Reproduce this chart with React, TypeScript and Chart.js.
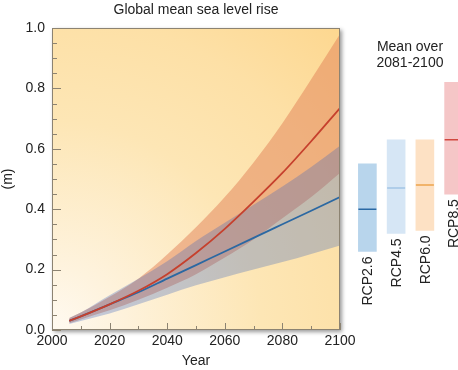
import React, { useEffect, useRef } from "react";
import { Chart, registerables } from "chart.js";

Chart.register(...registerables);

// ---- Data ----
const years = [2006, 2010, 2020, 2030, 2040, 2050, 2060, 2070, 2080, 2090, 2100];
const rcp85Mid = [0.03, 0.045, 0.085, 0.13, 0.185, 0.255, 0.335, 0.425, 0.52, 0.625, 0.735];
const rcp85High = [0.04, 0.058, 0.11, 0.17, 0.25, 0.34, 0.44, 0.555, 0.685, 0.83, 0.98];
const rcp85Low = [0.022, 0.035, 0.065, 0.1, 0.14, 0.185, 0.24, 0.3, 0.37, 0.44, 0.52];
const rcp26Mid = [0.03, 0.045, 0.085, 0.125, 0.17, 0.215, 0.26, 0.305, 0.35, 0.395, 0.44];
const rcp26High = [0.04, 0.058, 0.115, 0.17, 0.228, 0.295, 0.355, 0.415, 0.475, 0.54, 0.61];
const rcp26Low = [0.02, 0.03, 0.055, 0.085, 0.117, 0.148, 0.175, 0.2, 0.225, 0.252, 0.28];

const scenarios = ["RCP2.6", "RCP4.5", "RCP6.0", "RCP8.5"];
const meanLow = [0.26, 0.32, 0.33, 0.45];
const meanHigh = [0.55, 0.63, 0.63, 0.82];
const meanMid = [0.4, 0.47, 0.48, 0.63];

const title = "Global mean sea level rise";
const xTitle = "Year";
const yTitle = "(m)";
const sideTitle = ["Mean over", "2081-2100"];

// ---- Styles ----
const FONT = "'Liberation Sans', Arial, Helvetica, sans-serif";
const TEXT = "#222";
const FS = 14;
const barColors = ["#b8d5ec", "#d6e6f5", "#fde1c4", "#f5c6c7"];
const meanLineColors = ["#2a69a4", "#a2c5e5", "#eca34c", "#d1473f"];

const frameColor = "#8c8372";

const mainPlugin = {
  id: "mainDecor",
  beforeDraw(chart: any) {
    const { ctx, chartArea: a } = chart;
    const g = ctx.createRadialGradient(a.left, a.bottom, 0, a.left, a.bottom, 420);
    g.addColorStop(0, "#fffaf1");
    g.addColorStop(0.15, "#fef3de");
    g.addColorStop(0.5, "#fde6b5");
    g.addColorStop(0.75, "#fde0a6");
    g.addColorStop(1, "#fdd78f");
    ctx.save();
    ctx.shadowColor = "rgba(0,0,0,0.4)";
    ctx.shadowBlur = 4;
    ctx.shadowOffsetX = 2;
    ctx.shadowOffsetY = 2;
    ctx.fillStyle = g;
    ctx.fillRect(a.left, a.top, a.right - a.left, a.bottom - a.top);
    ctx.restore();
  },
  afterDatasetsDraw(chart: any) {
    const { ctx, chartArea: a } = chart;
    const xs = chart.scales.x;
    const ys = chart.scales.y;
    ctx.save();
    ctx.strokeStyle = frameColor;
    ctx.lineWidth = 1;
    ctx.beginPath();
    ys.ticks.forEach((t: any) => {
      const v = Math.round(t.value * 100);
      const p = Math.round(ys.getPixelForValue(t.value)) + 0.5;
      const len = v % 20 === 0 ? 9 : 5;
      ctx.moveTo(a.left, p);
      ctx.lineTo(a.left + len, p);
    });
    xs.ticks.forEach((t: any) => {
      const v = Math.round(t.value);
      const p = Math.round(xs.getPixelForValue(t.value)) + 0.5;
      const len = v % 20 === 0 ? 7 : 4;
      ctx.moveTo(p, a.bottom);
      ctx.lineTo(p, a.bottom - len);
    });
    ctx.stroke();
    ctx.strokeRect(
      Math.round(a.left) + 0.5,
      Math.round(a.top) + 0.5,
      Math.round(a.right - a.left) - 1,
      Math.round(a.bottom - a.top) - 1
    );
    ctx.restore();
  },
};

const barLabelPlugin = {
  id: "barLabels",
  afterDatasetsDraw(chart: any) {
    const { ctx } = chart;
    const meta = chart.getDatasetMeta(0);
    ctx.save();
    ctx.font = `${FS}px ${FONT}`;
    ctx.fillStyle = TEXT;
    ctx.textAlign = "right";
    ctx.textBaseline = "middle";
    meta.data.forEach((el: any, i: number) => {
      const bottom = Math.max(el.base, el.y);
      ctx.save();
      ctx.translate(el.x + 1, bottom + 5);
      ctx.rotate(-Math.PI / 2);
      ctx.fillText(scenarios[i], 0, 0);
      ctx.restore();
    });
    ctx.restore();
  },
};

export default function App() {
  const mainRef = useRef<HTMLCanvasElement>(null);
  const barRef = useRef<HTMLCanvasElement>(null);

  useEffect(() => {
    Chart.defaults.font.family = FONT;
    Chart.defaults.color = TEXT;

    const line = (data: number[], extra: any) => ({
      data: years.map((y, i) => ({ x: y, y: data[i] })),
      pointRadius: 0,
      borderWidth: 0,
      tension: 0.4,
      cubicInterpolationMode: "monotone",
      fill: false,
      ...extra,
    });

    const main = new Chart(mainRef.current!, {
      type: "line",
      data: {
        datasets: [
          line(rcp85Low, { order: 6, borderColor: "transparent" }),
          line(rcp85High, { order: 5, borderColor: "transparent", fill: 0, backgroundColor: "rgba(226,128,86,0.5)" }),
          line(rcp26Low, { order: 4, borderColor: "transparent" }),
          line(rcp26High, { order: 3, borderColor: "transparent", fill: 2, backgroundColor: "rgba(60,100,190,0.3)" }),
          line(rcp26Mid, { order: 2, borderColor: "#2b68a2", borderWidth: 1.8 }),
          line(rcp85Mid, { order: 1, borderColor: "#c6402d", borderWidth: 1.8 }),
        ],
      },
      options: {
        responsive: false,
        animation: false,
        events: [],
        layout: { autoPadding: false, padding: { left: 0, right: 118, top: 0, bottom: 0 } },
        plugins: {
          legend: { display: false },
          tooltip: { enabled: false },
          title: {
            display: true,
            text: title,
            fullSize: false,
            color: TEXT,
            font: { size: FS, weight: "normal", family: FONT, lineHeight: 1.2 },
            padding: { top: 1.6, bottom: 9.6 },
          },
        },
        scales: {
          x: {
            type: "linear",
            min: 2000,
            max: 2100,
            grid: { display: false, drawTicks: false },
            border: { display: false },
            ticks: {
              stepSize: 10,
              autoSkip: false,
              maxRotation: 0,
              padding: 3,
              color: TEXT,
              font: { size: FS, family: FONT },
              callback: (v: any) => (Math.round(v) % 20 === 0 ? String(Math.round(v)) : ""),
            },
            title: {
              display: true,
              text: xTitle,
              color: TEXT,
              font: { size: FS, family: FONT, lineHeight: 1.2 },
              padding: { top: 0, bottom: 0 },
            },
            afterFit: (s: any) => {
              s.height = 40;
            },
          },
          y: {
            min: 0,
            max: 1,
            grid: { display: false, drawTicks: false },
            border: { display: false },
            ticks: {
              stepSize: 0.05,
              autoSkip: false,
              padding: 7,
              color: TEXT,
              font: { size: FS, family: FONT },
              callback: (v: any) => {
                const n = Math.round(v * 100);
                return n % 20 === 0 ? (n / 100).toFixed(1) : "";
              },
            },
            title: {
              display: true,
              text: yTitle,
              color: TEXT,
              font: { size: FS, family: FONT, lineHeight: 1.2 },
              padding: { top: 0, bottom: 0 },
            },
            afterFit: (s: any) => {
              s.width = 52;
            },
          },
        },
      },
      plugins: [mainPlugin],
    } as any);

    const bars = new Chart(barRef.current!, {
      type: "bar",
      data: {
        labels: scenarios,
        datasets: [
          {
            type: "bar",
            data: scenarios.map((_, i) => [meanLow[i], meanHigh[i]]),
            backgroundColor: barColors,
            borderWidth: 0,
            barThickness: 18,
            grouped: false,
            order: 2,
          } as any,
          {
            type: "line",
            data: meanMid,
            showLine: false,
            pointStyle: "line",
            pointRadius: 9,
            pointBorderWidth: 1.6,
            pointBorderColor: meanLineColors,
            pointBackgroundColor: meanLineColors,
            order: 1,
          } as any,
        ],
      },
      options: {
        responsive: false,
        animation: false,
        events: [],
        layout: { autoPadding: false, padding: { left: 0, right: 0, top: 28, bottom: 40 } },
        plugins: { legend: { display: false }, tooltip: { enabled: false }, title: { display: false } },
        scales: {
          x: { type: "category", display: false, offset: true },
          y: { min: 0, max: 1, display: false },
        },
      },
      plugins: [barLabelPlugin],
    } as any);

    return () => {
      main.destroy();
      bars.destroy();
    };
  }, []);

  return (
    <div
      style={{
        position: "fixed",
        left: 0,
        top: 0,
        width: 458,
        height: 370,
        overflow: "hidden",
        background: "#fff",
      }}
    >
      <canvas
        ref={mainRef}
        width={458}
        height={370}
        style={{ position: "absolute", left: 0, top: 0, width: 458, height: 370 }}
      />
      <canvas
        ref={barRef}
        width={115}
        height={370}
        style={{ position: "absolute", left: 353, top: 0, width: 115, height: 370 }}
      />
      <div
        style={{
          position: "absolute",
          left: 350,
          top: 39,
          width: 120,
          textAlign: "center",
          fontFamily: FONT,
          fontSize: FS,
          lineHeight: "15.5px",
          color: TEXT,
        }}
      >
        {sideTitle[0]}
        <br />
        {sideTitle[1]}
      </div>
    </div>
  );
}
